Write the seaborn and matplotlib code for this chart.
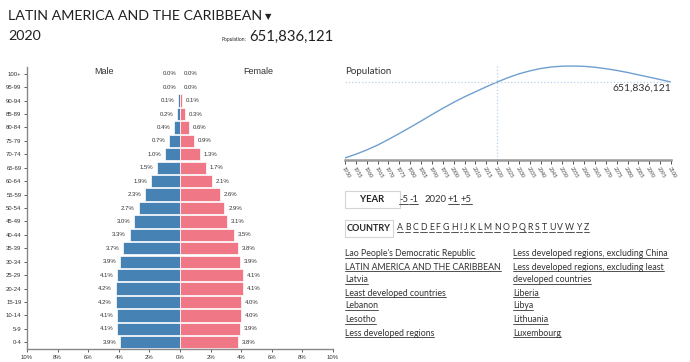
import numpy as np
import pandas as pd
import matplotlib
matplotlib.use('Agg')
import matplotlib.pyplot as plt
import seaborn as sns
from matplotlib.lines import Line2D
from matplotlib.patches import Rectangle

# ---- data ----
region = 'LATIN AMERICA AND THE CARIBBEAN'
year = 2020
total_pop = 651836121

age_groups = ['100+', '95-99', '90-94', '85-89', '80-84', '75-79', '70-74', '65-69',
              '60-64', '55-59', '50-54', '45-49', '40-44', '35-39', '30-34', '25-29',
              '20-24', '15-19', '10-14', '5-9', '0-4']
male_pct = [0.0, 0.0, 0.1, 0.2, 0.4, 0.7, 1.0, 1.5, 1.9, 2.3, 2.7, 3.0, 3.3, 3.7,
            3.9, 4.1, 4.2, 4.2, 4.1, 4.1, 3.9]
female_pct = [0.0, 0.0, 0.1, 0.3, 0.6, 0.9, 1.3, 1.7, 2.1, 2.6, 2.9, 3.1, 3.5, 3.8,
              3.9, 4.1, 4.1, 4.0, 4.0, 3.9, 3.8]

years = list(range(1950, 2101, 5))
population_m = [169, 193, 220, 251, 287, 325, 364, 404, 445, 485, 523, 558, 590, 622,
                652, 680, 704, 723, 738, 748, 753, 754, 752, 746, 737, 726, 713, 698,
                683, 668, 652]

year_steps = ['-5', '-1', '2020', '+1', '+5']
letters = list('ABCDEFGHIJKLMNOPQRSTUVWYZ')
countries_left = ["Lao People's Democratic Republic", 'LATIN AMERICA AND THE CARIBBEAN',
                  'Latvia', 'Least developed countries', 'Lebanon', 'Lesotho',
                  'Less developed regions']
countries_right = ['Less developed regions, excluding China',
                   'Less developed regions, excluding least', 'developed countries',
                   'Liberia', 'Libya', 'Lithuania', 'Luxembourg']

sns.set_theme(style='white')
plt.rcParams['font.family'] = ['Lato', 'DejaVu Sans']

W, H = 690, 362
fig = plt.figure(figsize=(W / 100, H / 100), dpi=100)
renderer = fig.canvas.get_renderer()


def fx(x):
    return x / W


def fy(y):
    return 1 - y / H


def extent(t):
    return t.get_window_extent(renderer=renderer)


def fit(t, width_px):
    # scale a text so it spans the width seen in the reference
    w = extent(t).width
    t.set_fontsize(t.get_fontsize() * width_px / w)


def underline(t, color='#333333', lw=0.6):
    bb = extent(t)
    y0 = bb.y0 + 0.8
    fig.add_artist(Line2D([bb.x0 / W, bb.x1 / W], [y0 / H, y0 / H], color=color, lw=lw,
                          transform=fig.transFigure))


# ---- header ----
txt_col = '#222222'
t = fig.text(fx(8), fy(16), region, fontsize=13, color=txt_col, va='center')
fit(t, 254)
fig.text(fx(265), fy(17), '▼', fontsize=6, color=txt_col, va='center',
         family='DejaVu Sans')
fig.text(fx(8), fy(36), str(year), fontsize=t.get_fontsize(), color=txt_col, va='center')
t = fig.text(fx(333), fy(37), f'{total_pop:,}', fontsize=13.5, color=txt_col,
             va='center', ha='right')
fit(t, 85)
fig.text(fx(246), fy(40), 'Population:', fontsize=3.5, color=txt_col, va='center', ha='right')

# ---- pyramid ----
df = pd.DataFrame({
    'age': age_groups * 2,
    'pct': [-v for v in male_pct] + female_pct,
    'sex': ['Male'] * len(age_groups) + ['Female'] * len(age_groups),
})
ax = fig.add_axes([fx(27), 1 - 349 / H, fx(306), 282 / H])
sns.barplot(data=df, x='pct', y='age', hue='sex', order=age_groups, dodge=False,
            palette={'Male': '#4682b4', 'Female': '#f07786'}, saturation=1, width=0.92,
            edgecolor='white', linewidth=0.5, legend=False, ax=ax)
for i, (m, f) in enumerate(zip(male_pct, female_pct)):
    ax.text(-m - 0.25, i, f'{m:.1f}%', ha='right', va='center', fontsize=4.3,
            color='#333333', family='Liberation Sans')
    ax.text(f + 0.25, i, f'{f:.1f}%', ha='left', va='center', fontsize=4.3,
            color='#333333', family='Liberation Sans')
ax.set_xlim(-10, 10)
ticks = list(range(-10, 11, 2))
ax.set_xticks(ticks)
ax.set_xticklabels([f'{abs(v)}%' for v in ticks])
ax.set_xlabel('')
ax.set_ylabel('')
for lbl in ax.get_xticklabels() + ax.get_yticklabels():
    lbl.set_family('Liberation Sans')
    lbl.set_fontsize(4.3)
    lbl.set_color('#333333')
ax.tick_params(axis='both', length=2.5, width=0.6, color='#444444', pad=1.5,
               bottom=True, left=True)
sns.despine(ax=ax)
for s in ('left', 'bottom'):
    ax.spines[s].set_color('#888888')
    ax.spines[s].set_linewidth(1)
fig.text(fx(104), fy(71), 'Male', fontsize=6.5, color='#333333', ha='center', va='center',
         family='Liberation Sans')
fig.text(fx(258), fy(71), 'Female', fontsize=6.5, color='#333333', ha='center', va='center',
         family='Liberation Sans')

# ---- population over time ----
ax2 = fig.add_axes([fx(345), 1 - 160 / H, fx(326), 96 / H])
sns.lineplot(x=years, y=population_m, color='#6f9fd0', lw=1, ax=ax2)
pad = (max(population_m) - min(population_m)) * 0.022
ax2.set_ylim(min(population_m) - pad, max(population_m) + pad)
ax2.set_xlim(years[0], years[-1])
cur = total_pop / 1e6
ax2.axvline(year, color='#b7d1ea', ls=':', lw=0.9)
ax2.axhline(cur, color='#b7d1ea', ls=':', lw=0.9)
ax2.text(years[-1], cur - pad, f'{total_pop:,}', ha='right', va='top', fontsize=7.5,
         color='#333333')
ax2.set_yticks([])
ax2.set_xticks(years)
ax2.set_xticklabels([str(y) for y in years], rotation=-60, ha='left',
                    rotation_mode='anchor', fontsize=3.8, color='#444444')
ax2.tick_params(axis='x', length=3, width=0.6, color='#333333', pad=1.5, bottom=True)
for s in ('left', 'top', 'right'):
    ax2.spines[s].set_visible(False)
ax2.spines['bottom'].set_color('#9a9a9a')
ax2.spines['bottom'].set_linewidth(1.8)
fig.text(fx(345), fy(72), 'Population', fontsize=7, color='#333333', va='center')

# ---- controls ----
box_col = '#d4d4d4'
fig.add_artist(Rectangle((fx(345), fy(208)), fx(55), 17 / H, transform=fig.transFigure,
                         facecolor='white', edgecolor=box_col, lw=0.8))
fig.text(fx(372.5), fy(199.5), 'YEAR', fontsize=6.8, weight='bold', color='#222222',
         ha='center', va='center')
step_x = [399, 409, 425, 448, 461]
for s, x in zip(year_steps, step_x):
    t = fig.text(fx(x), fy(200), s, fontsize=6.8, color='#333333', va='center')
    if s != str(year):
        underline(t)

fig.add_artist(Rectangle((fx(345), fy(237)), fx(48), 17 / H, transform=fig.transFigure,
                         facecolor='white', edgecolor=box_col, lw=0.8))
fig.text(fx(369), fy(228.5), 'COUNTRY', fontsize=6.5, weight='bold', color='#222222',
         ha='center', va='center')
x = 397
for c in letters:
    t = fig.text(fx(x), fy(228), c, fontsize=6.3, color='#333333', va='center')
    underline(t)
    x += extent(t).width + 2.0

row_y = [254, 267, 280, 293, 306, 320, 333]
probe = fig.text(0, 0, countries_right[0], fontsize=7)
fit(probe, 155)
list_fs = probe.get_fontsize()
probe.remove()
for col_x, names in ((345, countries_left), (513, countries_right)):
    for name, y in zip(names, row_y):
        t = fig.text(fx(col_x), fy(y), name, fontsize=list_fs, color='#333333', va='center')
        underline(t)

fig.savefig('out.png', dpi=100)
